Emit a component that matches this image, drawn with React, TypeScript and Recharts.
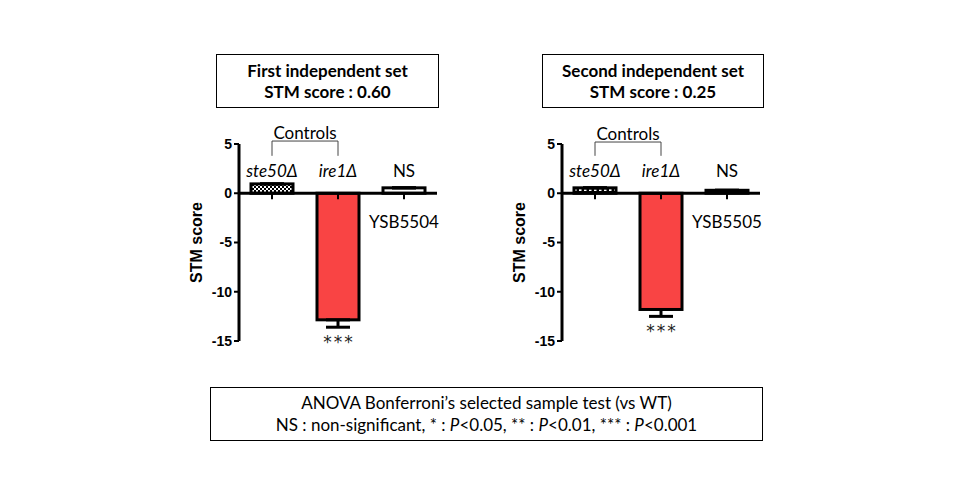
import React from 'react';
import { ComposedChart, Bar, XAxis, YAxis, ReferenceLine, ErrorBar } from 'recharts';

// ---- data ----
const categoriesSet1 = ['ste50Δ', 'ire1Δ', 'YSB5504'];
const categoriesSet2 = ['ste50Δ', 'ire1Δ', 'YSB5505'];
const scoresSet1 = [0.95, -12.85, 0.55];
const scoresSet2 = [0.55, -11.8, 0.3];
const lowerErrorsSet1 = [0, 0.75, 0];
const lowerErrorsSet2 = [0, 0.7, 0];
const significance = ['', '***', 'NS'];
const isControl = [true, true, false];
const yTicks = [-15, -10, -5, 0, 5];
const titleSet1 = ['First independent set', 'STM score : 0.60'];
const titleSet2 = ['Second independent set', 'STM score : 0.25'];
const bracketSet1 = { top: 5.3, bottom: 3.8 };
const bracketSet2 = { top: 5.2, bottom: 3.8 };

// ---- styles ----
const fillsSet1 = ['url(#checker)', '#F94444', '#FFFFFF'];
const fillsSet2 = ['url(#dashes)', '#F94444', '#FFFFFF'];
const TEXT_FONT = 'Lato, "Open Sans", sans-serif';
const AXIS_FONT = '"Liberation Sans", Arial, sans-serif';

function buildRows(cats: string[], scores: number[], errs: number[], fills: string[]) {
  return cats.map((name, i) => ({
    name,
    score: scores[i],
    err: [errs[i], 0],
    sig: significance[i],
    control: isControl[i],
    fill: fills[i],
  }));
}

function BarShape(props: any) {
  const { x, y, width, height, payload } = props;
  const h = Number(height) || 0;
  const top = Math.min(y, y + h);
  const bottom = Math.max(y, y + h);
  const v = payload.score;
  const zero = v >= 0 ? bottom : top;
  const cx = x + width / 2;
  const labelStyle = { fontFamily: TEXT_FONT, fontSize: 17, fill: '#000' } as any;
  return (
    <g>
      <rect x={x} y={top} width={width} height={bottom - top} fill={payload.fill} stroke="#000" strokeWidth={3} />
      <line x1={cx} x2={cx} y1={zero} y2={zero + 6} stroke="#000" strokeWidth={2} />
      <text x={cx} y={zero - 23} textAnchor="middle" dominantBaseline="central" style={labelStyle} fontStyle={payload.control ? 'italic' : 'normal'}>
        {payload.control ? payload.name : payload.sig}
      </text>
      {!payload.control && (
        <text x={cx} y={zero + 28} textAnchor="middle" dominantBaseline="central" style={labelStyle}>
          {payload.name}
        </text>
      )}
    </g>
  );
}

function Panel({ rows, bracket, left }: any) {
  const c0 = rows[0].name;
  const c1 = rows[1].name;
  const starred = rows.filter((r: any) => r.control && r.sig);
  return (
    <div style={{ position: 'absolute', left, top: 0 }}>
      <ComposedChart width={460} height={400} data={rows} margin={{ top: 144, right: 23, bottom: 59, left: 153 }}>
        <XAxis dataKey="name" hide />
        <YAxis
          width={86}
          domain={[-15, 5]}
          ticks={yTicks}
          interval={0}
          allowDataOverflow
          tickSize={5}
          tickMargin={2}
          axisLine={{ stroke: '#000', strokeWidth: 3 }}
          tickLine={{ stroke: '#000', strokeWidth: 2 }}
          tick={{ fill: '#000', fontFamily: AXIS_FONT, fontWeight: 'bold', fontSize: 14 }}
          label={{ value: 'STM score', angle: -90, position: 'center', style: { fontFamily: AXIS_FONT, fontWeight: 'bold', fontSize: 16, fill: '#000' } }}
        />
        <Bar dataKey="score" barSize={42} shape={BarShape} isAnimationActive={false}>
          <ErrorBar dataKey="err" direction="y" width={12} strokeWidth={3} stroke="#000" isAnimationActive={false} />
        </Bar>
        <ReferenceLine y={0} stroke="#000" strokeWidth={3} />
        <ReferenceLine
          segment={[{ x: c0, y: bracket.top }, { x: c1, y: bracket.top }]}
          stroke="#444"
          strokeWidth={1}
          ifOverflow="visible"
          label={{ value: 'Controls', position: 'top', offset: 2, style: { fontFamily: TEXT_FONT, fontSize: 17, fill: '#000' } }}
        />
        <ReferenceLine segment={[{ x: c0, y: bracket.top }, { x: c0, y: bracket.bottom }]} stroke="#444" strokeWidth={1} ifOverflow="visible" />
        <ReferenceLine segment={[{ x: c1, y: bracket.top }, { x: c1, y: bracket.bottom }]} stroke="#444" strokeWidth={1} ifOverflow="visible" />
        {starred.map((r: any) => (
          <ReferenceLine
            key={r.name}
            segment={[{ x: r.name, y: r.score - r.err[0] }, { x: r.name, y: r.score - r.err[0] }]}
            stroke="none"
            ifOverflow="visible"
            label={{
              value: r.sig,
              position: 'bottom',
              offset: 9,
              dx: 1,
              style: { fontFamily: '"DejaVu Sans", sans-serif', fontSize: 17, letterSpacing: 2, fill: '#222' },
            }}
          />
        ))}
      </ComposedChart>
    </div>
  );
}

function TitleBox({ lines, left, width }: any) {
  return (
    <div
      style={{
        position: 'absolute', left, top: 54, width, height: 54, boxSizing: 'border-box',
        border: '1px solid #000', display: 'flex', flexDirection: 'column', justifyContent: 'center',
        alignItems: 'center', fontFamily: TEXT_FONT, fontWeight: 'bold', fontSize: 17, lineHeight: '21px', color: '#000',
      }}
    >
      {lines.map((l: string) => <div key={l}>{l}</div>)}
    </div>
  );
}

export default function App() {
  const rows1 = buildRows(categoriesSet1, scoresSet1, lowerErrorsSet1, fillsSet1);
  const rows2 = buildRows(categoriesSet2, scoresSet2, lowerErrorsSet2, fillsSet2);
  return (
    <div style={{ position: 'absolute', left: 0, top: 0, width: 960, height: 500, background: '#fff', overflow: 'hidden' }}>
      <svg width={0} height={0} style={{ position: 'absolute' }}>
        <defs>
          <pattern id="checker" patternUnits="userSpaceOnUse" width={4} height={4}>
            <rect width={4} height={4} fill="#fff" />
            <rect x={0} y={0} width={2} height={2} fill="#000" />
            <rect x={2} y={2} width={2} height={2} fill="#000" />
          </pattern>
          <pattern id="dashes" patternUnits="userSpaceOnUse" width={5} height={4}>
            <rect width={5} height={4} fill="#000" />
            <rect x={1} y={1} width={2.5} height={2} fill="#fff" />
          </pattern>
        </defs>
      </svg>
      <TitleBox lines={titleSet1} left={216} width={223} />
      <TitleBox lines={titleSet2} left={542} width={222} />
      <Panel rows={rows1} bracket={bracketSet1} left={0} />
      <Panel rows={rows2} bracket={bracketSet2} left={323} />
      <div
        style={{
          position: 'absolute', left: 210, top: 387, width: 553, height: 54, boxSizing: 'border-box',
          border: '1px solid #000', display: 'flex', flexDirection: 'column', justifyContent: 'center',
          alignItems: 'center', fontFamily: TEXT_FONT, fontSize: 17, lineHeight: '22px', color: '#000',
        }}
      >
        <div>ANOVA Bonferroni’s selected sample test (vs WT)</div>
        <div>
          NS : non-significant, * : <i>P</i>&lt;0.05, ** : <i>P</i>&lt;0.01, *** : <i>P</i>&lt;0.001
        </div>
      </div>
    </div>
  );
}
